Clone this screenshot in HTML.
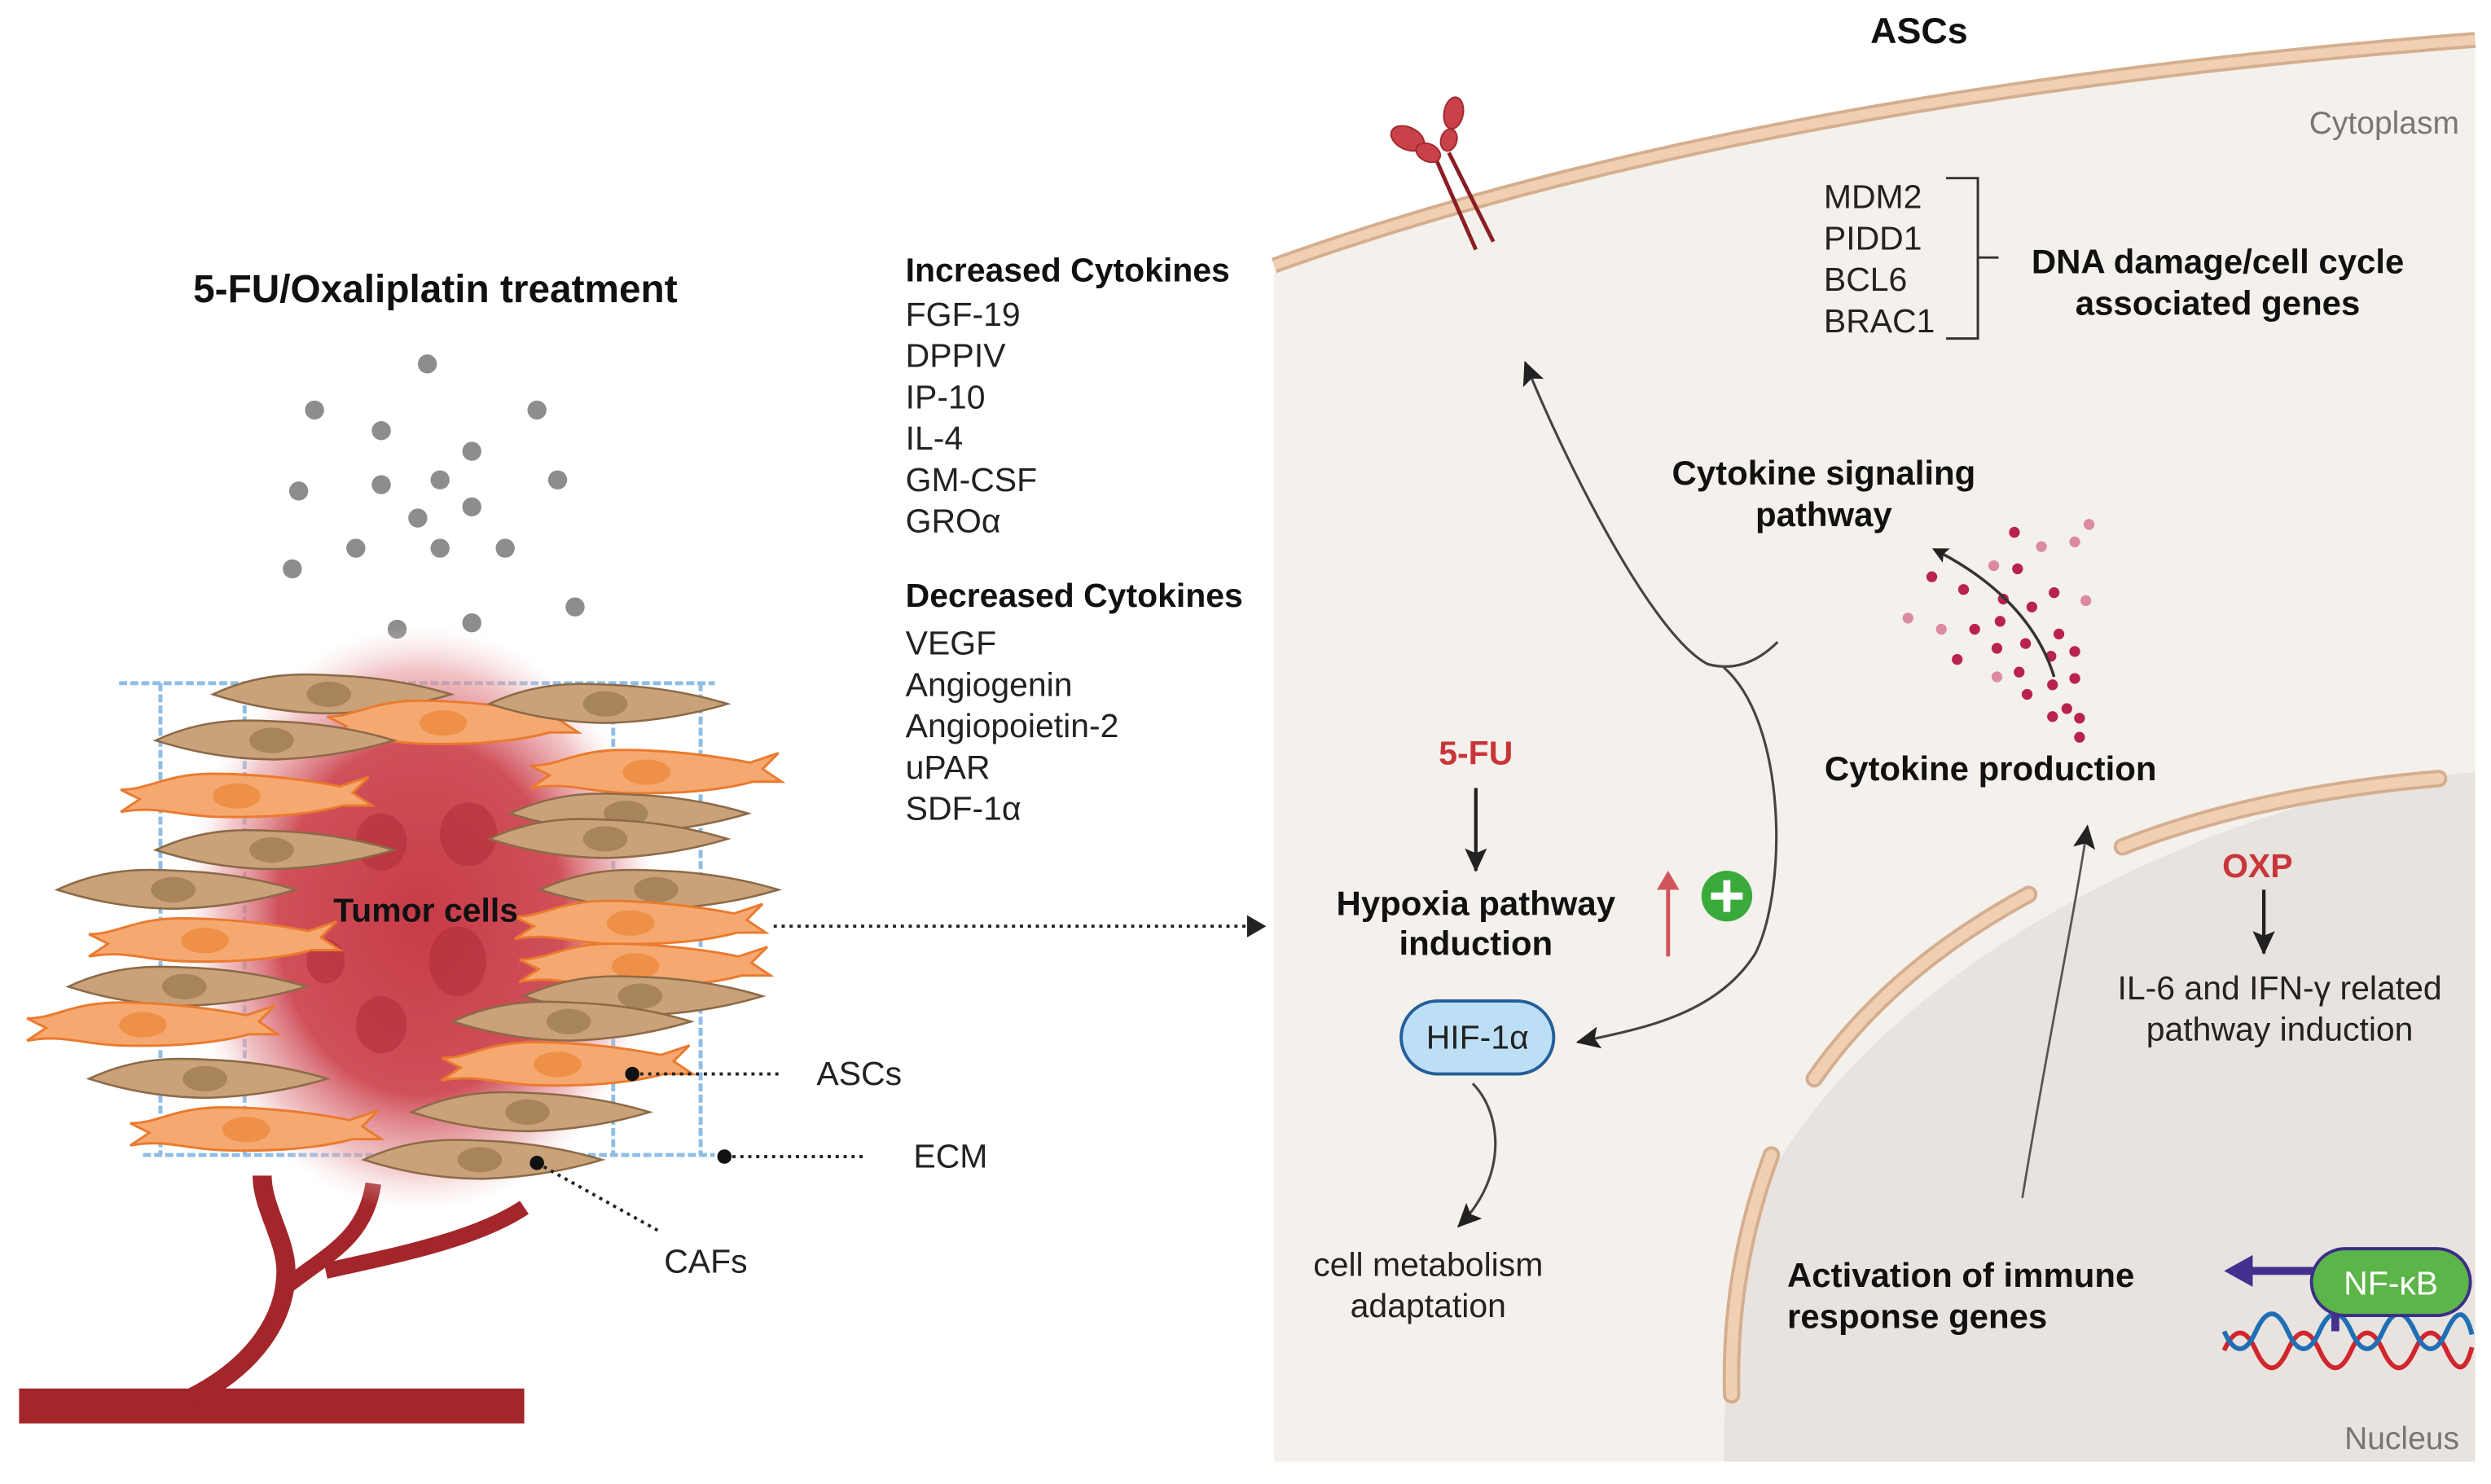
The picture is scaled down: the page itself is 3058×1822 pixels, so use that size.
<!DOCTYPE html>
<html><head><meta charset="utf-8"><style>
html,body{margin:0;padding:0;background:#fff}
svg{display:block}
text{font-family:"Liberation Sans",sans-serif}
.b{font-weight:bold}
</style></head><body>
<svg width="3058" height="1822" viewBox="0 0 1568 934" xmlns="http://www.w3.org/2000/svg">
<defs>
<marker id="ah" markerWidth="10" markerHeight="10" refX="8" refY="5" orient="auto" markerUnits="userSpaceOnUse"><path d="M0,0 L10,5 L0,10 L2,5Z" fill="#222"/></marker>
<marker id="ahs" markerWidth="16" markerHeight="16" refX="14" refY="8" orient="auto" markerUnits="userSpaceOnUse"><path d="M0,1 L15,8 L0,15 L3,8Z" fill="#222"/></marker>
<radialGradient id="tum" cx="50%" cy="50%" r="50%"><stop offset="0" stop-color="#c63c48"/><stop offset="0.6" stop-color="#d0505a"/><stop offset="0.85" stop-color="#e8a0a4" stop-opacity="0.6"/><stop offset="1" stop-color="#f8d8d8" stop-opacity="0"/></radialGradient>
<g id="tan"><path d="M-75,0 C-45,-14 -20,-13 0,-12 C30,-11 55,-6 75,0 C55,6 30,11 0,12 C-25,12 -50,8 -75,0Z" fill="#c9a27a" stroke="#8c6a47" stroke-width="1.3"/><ellipse cx="-2" cy="0" rx="14" ry="8" fill="#a8845c"/></g>
<g id="org"><path d="M-78,-4 C-60,-4 -50,-14 -20,-14 C10,-14 40,-10 60,-6 L78,-12 L68,-2 L80,6 L62,6 C40,12 10,14 -20,13 C-45,12 -55,6 -78,10 L-66,2Z" fill="#f5a970" stroke="#ea7a2e" stroke-width="1.5"/><ellipse cx="-5" cy="0" rx="15" ry="8" fill="#ee9048"/></g>
</defs>

<!-- Right panel -->
<path d="M802,167 Q1100,60 1558,25 L1558,920 L802,920Z" fill="#f4f0ec"/>
<path d="M1558,486 C1400,500 1200,600 1120,730 C1095,790 1085,850 1085,920 L1558,920Z" fill="#e8e3df"/>
<path d="M802,167 Q1100,60 1558,25" fill="none" stroke="#d4ae8e" stroke-width="10"/>
<path d="M802,167 Q1100,60 1558,25" fill="none" stroke="#f0cfb2" stroke-width="6"/>
<g fill="none" stroke-linecap="round">
<path d="M1535,490 Q1420,500 1336,533" stroke="#d4ae8e" stroke-width="11"/><path d="M1535,490 Q1420,500 1336,533" stroke="#f0cfb2" stroke-width="7"/>
<path d="M1277,563 Q1190,610 1142,679" stroke="#d4ae8e" stroke-width="11"/><path d="M1277,563 Q1190,610 1142,679" stroke="#f0cfb2" stroke-width="7"/>
<path d="M1115,727 Q1088,800 1090,878" stroke="#d4ae8e" stroke-width="11"/><path d="M1115,727 Q1088,800 1090,878" stroke="#f0cfb2" stroke-width="7"/>
</g>
<line x1="903" y1="98" x2="929" y2="157" stroke="#8b1d24" stroke-width="2.5"/>
<line x1="912" y1="96" x2="940" y2="152" stroke="#8b1d24" stroke-width="2.5"/>
<ellipse cx="886" cy="87" rx="11" ry="7" transform="rotate(25 886 87)" fill="#c9424a" stroke="#a02a30"/>
<ellipse cx="899" cy="96" rx="8" ry="5.5" transform="rotate(25 899 96)" fill="#c9424a" stroke="#a02a30"/>
<ellipse cx="915" cy="71" rx="6" ry="10" transform="rotate(10 915 71)" fill="#c9424a" stroke="#a02a30"/>
<ellipse cx="912" cy="88" rx="5" ry="7" transform="rotate(15 912 88)" fill="#c9424a" stroke="#a02a30"/>

<text x="1208" y="27" class="b" font-size="23" text-anchor="middle" fill="#111">ASCs</text>
<text x="1548" y="84" font-size="20" text-anchor="end" fill="#777">Cytoplasm</text>
<g font-size="21" fill="#222"><text x="1148" y="131">MDM2</text><text x="1148" y="157">PIDD1</text><text x="1148" y="183">BCL6</text><text x="1148" y="209">BRAC1</text></g>
<path d="M1225,112 H1245 V213 H1225 M1245,162 H1258" fill="none" stroke="#333" stroke-width="1.5"/>
<g class="b" font-size="21.5" fill="#111" text-anchor="middle"><text x="1396" y="172">DNA damage/cell cycle</text><text x="1396" y="198">associated genes</text>
<text x="1148" y="305">Cytokine signaling</text><text x="1148" y="331">pathway</text>
<text x="1253" y="491">Cytokine production</text>
<text x="929" y="576">Hypoxia pathway</text><text x="929" y="601">induction</text>
<text x="1125" y="810" text-anchor="start">Activation of immune</text><text x="1125" y="836" text-anchor="start">response genes</text></g>
<text x="929" y="481" class="b" font-size="21" fill="#c8363a" text-anchor="middle">5-FU</text>
<text x="1421" y="552" class="b" font-size="21" fill="#c8363a" text-anchor="middle">OXP</text>
<g font-size="21" fill="#222" text-anchor="middle"><text x="1435" y="629">IL-6 and IFN-γ related</text><text x="1435" y="655">pathway induction</text>
<text x="899" y="803">cell metabolism</text><text x="899" y="829">adaptation</text></g>
<text x="1548" y="912" font-size="20" text-anchor="end" fill="#777">Nucleus</text>

<g fill="#b8224d">
<circle cx="1268" cy="335" r="3.4"/><circle cx="1270" cy="358" r="3.4"/><circle cx="1216" cy="363" r="3.4"/><circle cx="1236" cy="371" r="3.4"/><circle cx="1293" cy="373" r="3.4"/><circle cx="1261" cy="377" r="3.4"/><circle cx="1279" cy="382" r="3.4"/><circle cx="1259" cy="391" r="3.4"/><circle cx="1243" cy="396" r="3.4"/><circle cx="1296" cy="399" r="3.4"/><circle cx="1275" cy="405" r="3.4"/><circle cx="1257" cy="408" r="3.4"/><circle cx="1306" cy="410" r="3.4"/><circle cx="1291" cy="413" r="3.4"/><circle cx="1232" cy="415" r="3.4"/><circle cx="1271" cy="423" r="3.4"/><circle cx="1306" cy="427" r="3.4"/><circle cx="1292" cy="431" r="3.4"/><circle cx="1276" cy="437" r="3.4"/><circle cx="1301" cy="446" r="3.4"/><circle cx="1292" cy="451" r="3.4"/><circle cx="1309" cy="452" r="3.4"/><circle cx="1309" cy="464" r="3.4"/></g>
<g fill="#dc8aa0"><circle cx="1315" cy="330" r="3.4"/><circle cx="1285" cy="344" r="3.4"/><circle cx="1306" cy="341" r="3.4"/><circle cx="1255" cy="356" r="3.4"/><circle cx="1313" cy="378" r="3.4"/><circle cx="1201" cy="389" r="3.4"/><circle cx="1222" cy="396" r="3.4"/><circle cx="1257" cy="426" r="3.4"/></g>
<path d="M1293,426 C1285,400 1265,370 1218,346" fill="none" stroke="#333" stroke-width="1.8" marker-end="url(#ah)"/>

<path d="M1119,404 C1105,418 1090,422 1075,418 C1040,400 985,290 960,228" fill="none" stroke="#444" stroke-width="1.6" marker-end="url(#ahs)"/>
<path d="M1085,420 C1125,455 1125,560 1105,600 C1080,640 1030,648 993,656" fill="none" stroke="#444" stroke-width="1.6" marker-end="url(#ahs)"/>
<path d="M927,682 C945,700 950,740 918,772" fill="none" stroke="#444" stroke-width="1.6" marker-end="url(#ahs)"/>
<path d="M1273,754 C1290,650 1305,580 1314,520" fill="none" stroke="#555" stroke-width="1.4" marker-end="url(#ahs)"/>
<line x1="929" y1="496" x2="929" y2="548" stroke="#222" stroke-width="2.2" marker-end="url(#ahs)"/>
<line x1="1425" y1="560" x2="1425" y2="600" stroke="#222" stroke-width="2.2" marker-end="url(#ahs)"/>
<line x1="1050" y1="602" x2="1050" y2="556" stroke="#d0555a" stroke-width="2.5"/>
<path d="M1043,560 L1050,548 L1057,560Z" fill="#d0555a"/>
<circle cx="1087" cy="564" r="16" fill="#3aaa3a"/>
<path d="M1077,564 H1097 M1087,554 V574" stroke="#fff" stroke-width="4.5"/>
<rect x="882" y="630" width="96" height="46" rx="23" fill="#bddff5" stroke="#235f99" stroke-width="2"/>
<text x="930" y="660" font-size="21" fill="#222" text-anchor="middle">HIF-1α</text>

<path d="M1400,850 Q1410,828 1420,850 T1440,850 T1460,850 T1480,850 T1500,850 T1520,850 T1540,850 T1556,848" fill="none" stroke="#d0262e" stroke-width="3"/>
<path d="M1400,838 Q1410,860 1420,838 T1440,838 T1460,838 T1480,838 T1500,838 T1520,838 T1540,838 T1556,840" fill="none" stroke="#1f6fb5" stroke-width="3"/>
<path d="M1470,838 V800 H1415" fill="none" stroke="#46308f" stroke-width="5"/>
<path d="M1418,790 L1400,800 L1418,810Z" fill="#46308f"/>
<rect x="1455" y="786" width="100" height="42" rx="21" fill="#5cb548" stroke="#3b2f86" stroke-width="2"/>
<text x="1505" y="815" font-size="21" fill="#fff" text-anchor="middle">NF-κB</text>

<!-- Left -->
<text x="274" y="190" class="b" font-size="24.5" fill="#111" text-anchor="middle">5-FU/Oxaliplatin treatment</text>
<g fill="#8d8d8d">
<circle cx="269" cy="229" r="6"/><circle cx="198" cy="258" r="6"/><circle cx="338" cy="258" r="6"/><circle cx="240" cy="271" r="6"/><circle cx="297" cy="284" r="6"/><circle cx="188" cy="309" r="6"/><circle cx="240" cy="305" r="6"/><circle cx="277" cy="302" r="6"/><circle cx="351" cy="302" r="6"/><circle cx="297" cy="319" r="6"/><circle cx="263" cy="326" r="6"/><circle cx="224" cy="345" r="6"/><circle cx="277" cy="345" r="6"/><circle cx="318" cy="345" r="6"/><circle cx="184" cy="358" r="6"/><circle cx="362" cy="382" r="6"/><circle cx="250" cy="396" r="6"/><circle cx="297" cy="392" r="6"/></g>

<g font-size="21" fill="#222">
<text x="570" y="177" class="b" fill="#111">Increased Cytokines</text>
<text x="570" y="205">FGF-19</text><text x="570" y="231">DPPIV</text><text x="570" y="257">IP-10</text><text x="570" y="283">IL-4</text><text x="570" y="309">GM-CSF</text><text x="570" y="335">GROα</text>
<text x="570" y="382" class="b" fill="#111">Decreased Cytokines</text>
<text x="570" y="412">VEGF</text><text x="570" y="438">Angiogenin</text><text x="570" y="464">Angiopoietin-2</text><text x="570" y="490">uPAR</text><text x="570" y="516">SDF-1α</text>
<text x="514" y="683">ASCs</text><text x="575" y="735">ECM</text><text x="418" y="801">CAFs</text>
</g>

<g fill="none" stroke="#a3262b" stroke-linecap="butt">
<path d="M12,885 H330" stroke-width="22"/>
<path d="M120,880 C160,860 180,830 180,800 C180,780 165,760 165,740" stroke-width="12"/>
<path d="M180,810 C205,790 230,780 235,745" stroke-width="10"/>
<path d="M205,800 C250,790 300,780 330,760" stroke-width="10"/>
</g>
<g fill="none" stroke="#8fbde6" stroke-width="2.5" stroke-dasharray="5,2">
<path d="M75,430 H450 M90,727 H450"/>
<path d="M101,430 V727 M154,430 V727 M386,430 V727 M441,430 V727"/>
</g>
<ellipse cx="265" cy="578" rx="150" ry="185" fill="url(#tum)"/>
<g fill="#b32e3a" opacity="0.6"><ellipse cx="240" cy="530" rx="16" ry="18"/><ellipse cx="295" cy="525" rx="18" ry="20"/><ellipse cx="288" cy="605" rx="18" ry="22"/><ellipse cx="240" cy="645" rx="16" ry="18"/><ellipse cx="205" cy="605" rx="12" ry="14"/></g>
<use href="#tan" x="209" y="437"/><use href="#org" x="284" y="455"/><use href="#tan" x="383" y="443"/>
<use href="#tan" x="173" y="466"/><use href="#org" x="412" y="486"/><use href="#org" x="154" y="501"/>
<use href="#tan" x="396" y="512"/><use href="#tan" x="383" y="528"/><use href="#tan" x="173" y="535"/>
<use href="#tan" x="111" y="560"/><use href="#tan" x="415" y="560"/><use href="#org" x="402" y="581"/>
<use href="#org" x="134" y="592"/><use href="#org" x="405" y="608"/><use href="#tan" x="118" y="621"/>
<use href="#tan" x="405" y="627"/><use href="#org" x="95" y="645"/><use href="#tan" x="360" y="643"/>
<use href="#org" x="356" y="670"/><use href="#tan" x="131" y="679"/><use href="#tan" x="334" y="700"/>
<use href="#org" x="160" y="711"/><use href="#tan" x="304" y="730"/>
<text x="268" y="580" class="b" font-size="21" fill="#111" text-anchor="middle">Tumor cells</text>

<g stroke="#222" stroke-width="2" stroke-dasharray="2,3" fill="none">
<path d="M487,583 H785"/><path d="M398,676 H490"/><path d="M456,728 H545"/><path d="M338,732 L415,775"/>
</g>
<path d="M785,576 L797,583 L785,590Z" fill="#222"/>
<circle cx="398" cy="676" r="4.5" fill="#111"/><circle cx="456" cy="728" r="4.5" fill="#111"/><circle cx="338" cy="732" r="4.5" fill="#111"/>
</svg>
</body></html>
